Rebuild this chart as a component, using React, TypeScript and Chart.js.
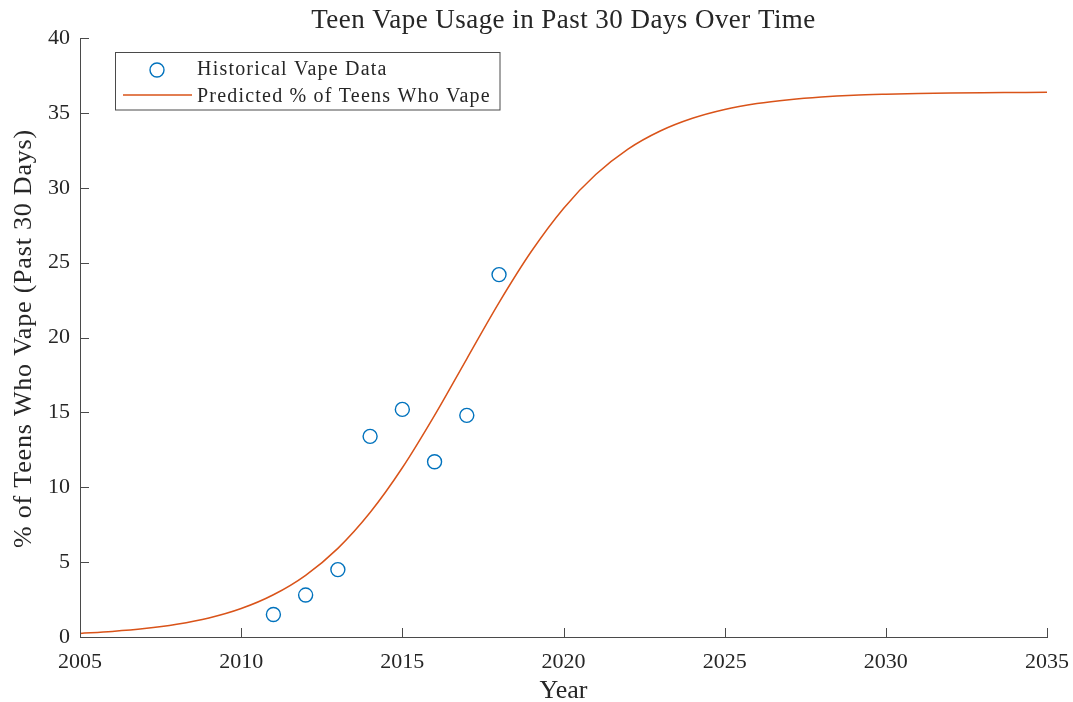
import React, { useEffect, useRef } from "react";
import { Chart, registerables } from "chart.js";

Chart.register(...registerables);

const histYears = [2011, 2012, 2013, 2014, 2015, 2016, 2017, 2018];
const histValues = [1.5, 2.8, 4.5, 13.4, 15.2, 11.7, 14.8, 24.2];

const curveYears = [
  2005, 2006, 2007, 2008, 2009, 2010, 2011, 2012, 2013, 2014, 2015, 2016,
  2017, 2018, 2019, 2020, 2021, 2022, 2023, 2024, 2025, 2026, 2027, 2028,
  2029, 2030, 2031, 2032, 2033, 2034, 2035,
];
const curveValues = [
  0.24, 0.37, 0.56, 0.85, 1.27, 1.9, 2.82, 4.12, 5.92, 8.31, 11.3, 14.8,
  18.58, 22.33, 25.74, 28.62, 30.88, 32.58, 33.79, 34.64, 35.23, 35.62, 35.88,
  36.06, 36.18, 36.25, 36.3, 36.33, 36.35, 36.36, 36.37,
];

const xTicks = [2005, 2010, 2015, 2020, 2025, 2030, 2035];
const yTicks = [0, 5, 10, 15, 20, 25, 30, 35, 40];

const titleText = "Teen Vape Usage in Past 30 Days Over Time";
const xTitle = "Year";
const yTitle = "% of Teens Who Vape (Past 30 Days)";
const legendLabels = ["Historical Vape Data", "Predicted % of Teens Who Vape"];

const BLUE = "#0072BD";
const ORANGE = "#D95319";
const AXIS = "#4a4a4a";
const TEXT = "#262626";
const FONT = "'Liberation Serif', 'Times New Roman', serif";

const decorPlugin = {
  id: "decor",
  afterDatasetsDraw(chart: any) {
    const ctx = chart.ctx as CanvasRenderingContext2D;
    const { chartArea, scales } = chart;
    const xs = scales.x;
    const ys = scales.y;
    ctx.save();
    // inward ticks
    ctx.strokeStyle = AXIS;
    ctx.lineWidth = 1;
    ctx.beginPath();
    for (const v of xTicks) {
      const px = Math.round(xs.getPixelForValue(v)) + 0.5;
      ctx.moveTo(px, chartArea.bottom);
      ctx.lineTo(px, chartArea.bottom - 9);
    }
    for (const v of yTicks) {
      const py = Math.round(ys.getPixelForValue(v)) + 0.5;
      ctx.moveTo(chartArea.left, py);
      ctx.lineTo(chartArea.left + 9, py);
    }
    ctx.stroke();

    // legend
    ctx.fillStyle = "#ffffff";
    ctx.fillRect(116, 53, 384, 57);
    ctx.strokeStyle = AXIS;
    ctx.strokeRect(115.5, 52.5, 384.5, 57.5);
    ctx.beginPath();
    ctx.strokeStyle = BLUE;
    ctx.lineWidth = 1.4;
    ctx.arc(157, 70, 7, 0, Math.PI * 2);
    ctx.stroke();
    ctx.beginPath();
    ctx.strokeStyle = ORANGE;
    ctx.lineWidth = 1.5;
    ctx.moveTo(123, 95);
    ctx.lineTo(192, 95);
    ctx.stroke();
    ctx.fillStyle = TEXT;
    ctx.font = `20px ${FONT}`;
    (ctx as any).letterSpacing = "1.2px";
    ctx.textAlign = "left";
    ctx.textBaseline = "alphabetic";
    ctx.fillText(legendLabels[0], 197, 74.5);
    ctx.fillText(legendLabels[1], 197, 101.5);

    // title
    ctx.font = `27px ${FONT}`;
    (ctx as any).letterSpacing = "0.45px";
    ctx.textAlign = "center";
    ctx.fillText(titleText, (chartArea.left + chartArea.right) / 2, 28);

    // x title
    ctx.font = `26px ${FONT}`;
    (ctx as any).letterSpacing = "0px";
    ctx.fillText(xTitle, (chartArea.left + chartArea.right) / 2, 698);

    // y title
    ctx.save();
    ctx.translate(31, (chartArea.top + chartArea.bottom) / 2 + 1);
    ctx.rotate(-Math.PI / 2);
    (ctx as any).letterSpacing = "0.8px";
    ctx.fillText(yTitle, 0, 0);
    ctx.restore();

    ctx.restore();
  },
};

export default function App() {
  const ref = useRef<HTMLCanvasElement | null>(null);
  useEffect(() => {
    document.body.style.margin = "0";
    const canvas = ref.current!;
    const chart = new Chart(canvas, {
      type: "scatter",
      data: {
        datasets: [
          {
            label: legendLabels[1],
            data: curveYears.map((x, i) => ({ x, y: curveValues[i] })),
            showLine: true,
            borderColor: ORANGE,
            borderWidth: 1.5,
            pointRadius: 0,
            cubicInterpolationMode: "monotone",
            fill: false,
          } as any,
          {
            label: legendLabels[0],
            data: histYears.map((x, i) => ({ x, y: histValues[i] })),
            showLine: false,
            pointStyle: "circle",
            pointRadius: 7,
            pointBorderWidth: 1.4,
            borderColor: BLUE,
            backgroundColor: "rgba(0,0,0,0)",
          } as any,
        ],
      },
      options: {
        responsive: false,
        animation: false,
        layout: { padding: { left: 0, top: 38, right: 26, bottom: 0 } },
        plugins: {
          legend: { display: false },
          title: { display: false },
          tooltip: { enabled: false },
        },
        scales: {
          x: {
            type: "linear",
            min: 2005,
            max: 2035,
            grid: { display: false, drawTicks: false },
            border: { display: true, color: AXIS, width: 1 },
            afterFit: (s: any) => {
              s.height = 65;
              s.paddingLeft = 0;
              s.paddingRight = 0;
            },
            afterBuildTicks: (s: any) => {
              s.ticks = xTicks.map((v) => ({ value: v }));
            },
            ticks: {
              padding: 12,
              color: TEXT,
              font: { family: FONT, size: 22 },
              maxRotation: 0,
              autoSkip: false,
              callback: (v: any) => String(v),
            },
          },
          y: {
            type: "linear",
            min: 0,
            max: 40,
            grid: { display: false, drawTicks: false },
            border: { display: true, color: AXIS, width: 1 },
            afterFit: (s: any) => {
              s.width = 80;
              s.paddingTop = 0;
              s.paddingBottom = 0;
            },
            afterBuildTicks: (s: any) => {
              s.ticks = yTicks.map((v) => ({ value: v }));
            },
            ticks: {
              padding: 10,
              color: TEXT,
              font: { family: FONT, size: 22 },
              autoSkip: false,
              callback: (v: any) => String(v),
            },
          },
        },
      },
      plugins: [decorPlugin],
    });
    return () => chart.destroy();
  }, []);
  return <canvas ref={ref} width={1073} height={702} style={{ display: "block" }} />;
}
